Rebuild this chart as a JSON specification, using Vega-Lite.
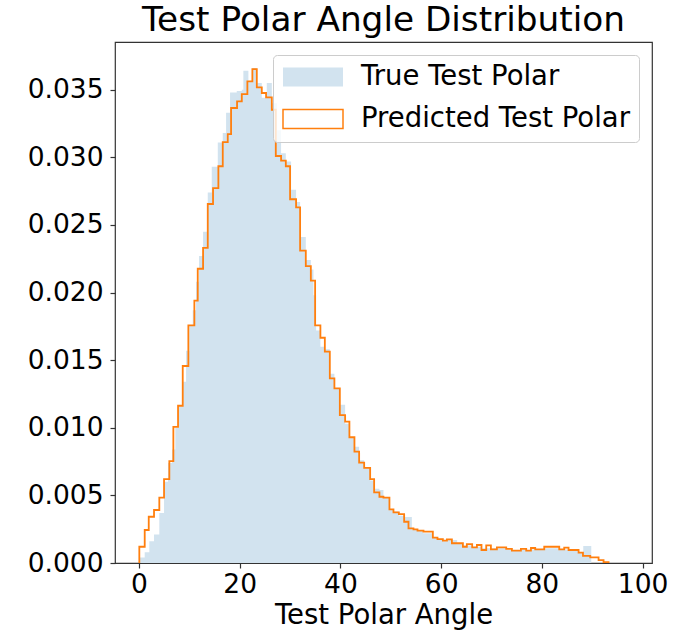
{
  "$schema": "https://vega.github.io/schema/vega-lite/v6.json",
  "width": 537,
  "height": 521,
  "autosize": {"type": "none"},
  "padding": {"left": 115, "top": 42, "right": 36, "bottom": 67},
  "background": "white",
  "config": {
    "font": "DejaVu Sans",
    "view": {"stroke": "#333333", "strokeWidth": 1.2}
  },
  "title": {"text": "Test Polar Angle Distribution", "fontSize": 34.3, "font": "DejaVu Sans", "fontWeight": "normal", "color": "#000000", "anchor": "middle", "baseline": "alphabetic", "offset": -23},
  "datasets": {
    "truth": [
      {"x": 0.2, "d": 0.0004}, {"x": 1.13, "d": 0.0008}, {"x": 2.05, "d": 0.0016}, {"x": 2.98, "d": 0.0021},
      {"x": 4.03, "d": 0.0037}, {"x": 4.97, "d": 0.006}, {"x": 5.76, "d": 0.0074}, {"x": 6.56, "d": 0.0084},
      {"x": 7.21, "d": 0.01}, {"x": 7.89, "d": 0.0116}, {"x": 8.54, "d": 0.0134}, {"x": 9.34, "d": 0.0157},
      {"x": 9.99, "d": 0.0176}, {"x": 10.67, "d": 0.0187}, {"x": 11.33, "d": 0.0208}, {"x": 11.92, "d": 0.0227},
      {"x": 12.72, "d": 0.0245}, {"x": 13.65, "d": 0.0274}, {"x": 14.44, "d": 0.0293}, {"x": 15.64, "d": 0.0311},
      {"x": 16.63, "d": 0.0318}, {"x": 17.29, "d": 0.0333}, {"x": 18.08, "d": 0.0348}, {"x": 19.41, "d": 0.0349},
      {"x": 20.41, "d": 0.035}, {"x": 20.72, "d": 0.0364}, {"x": 21.72, "d": 0.0356}, {"x": 22.51, "d": 0.0366},
      {"x": 23.39, "d": 0.0355}, {"x": 24.38, "d": 0.0344}, {"x": 25.37, "d": 0.0355}, {"x": 26.37, "d": 0.034},
      {"x": 27.42, "d": 0.032}, {"x": 28.21, "d": 0.0303}, {"x": 29.15, "d": 0.0297}, {"x": 30.2, "d": 0.0276},
      {"x": 31.19, "d": 0.0267}, {"x": 31.99, "d": 0.0241}, {"x": 33.12, "d": 0.0224}, {"x": 34.12, "d": 0.0217},
      {"x": 34.64, "d": 0.0198}, {"x": 35.17, "d": 0.0172}, {"x": 36.02, "d": 0.016}, {"x": 36.9, "d": 0.0158},
      {"x": 37.89, "d": 0.014}, {"x": 38.8, "d": 0.0129}, {"x": 39.88, "d": 0.0117}, {"x": 40.93, "d": 0.0103},
      {"x": 41.78, "d": 0.0093}, {"x": 42.78, "d": 0.0086}, {"x": 43.71, "d": 0.0076}, {"x": 44.71, "d": 0.0071},
      {"x": 45.9, "d": 0.0061}, {"x": 46.69, "d": 0.0055}, {"x": 47.74, "d": 0.0054}, {"x": 48.54, "d": 0.0048},
      {"x": 49.73, "d": 0.004}, {"x": 50.53, "d": 0.0038}, {"x": 51.6, "d": 0.0035}, {"x": 52.65, "d": 0.0034},
      {"x": 54.18, "d": 0.0025}, {"x": 55.24, "d": 0.0024}, {"x": 56.43, "d": 0.0022}, {"x": 58.41, "d": 0.0019},
      {"x": 59.21, "d": 0.0018}, {"x": 60.4, "d": 0.0016}, {"x": 61.2, "d": 0.0017}, {"x": 63.18, "d": 0.0014},
      {"x": 64.38, "d": 0.0013}, {"x": 66.16, "d": 0.0012}, {"x": 67.95, "d": 0.0011}, {"x": 71.13, "d": 0.0011},
      {"x": 72.92, "d": 0.001}, {"x": 74.11, "d": 0.0009}, {"x": 75.9, "d": 0.001}, {"x": 76.89, "d": 0.0009},
      {"x": 77.89, "d": 0.001}, {"x": 80.47, "d": 0.0011}, {"x": 83.45, "d": 0.001}, {"x": 85.24, "d": 0.0009},
      {"x": 87.22, "d": 0.0008}, {"x": 88.22, "d": 0.00126}, {"x": 89.81, "d": 0}
    ],
    "pred": [
      {"x": 0.06, "d": 0}, {"x": 0.06, "d": 0.0012}, {"x": 1.13, "d": 0.00244}, {"x": 1.93, "d": 0.00342},
      {"x": 2.98, "d": 0.00392}, {"x": 4.03, "d": 0.00483}, {"x": 4.97, "d": 0.00621}, {"x": 6.02, "d": 0.00754},
      {"x": 6.82, "d": 0.01006}, {"x": 7.75, "d": 0.01163}, {"x": 8.68, "d": 0.01457}, {"x": 9.8, "d": 0.01758},
      {"x": 10.99, "d": 0.0194}, {"x": 11.66, "d": 0.02176}, {"x": 12.72, "d": 0.0233}, {"x": 13.65, "d": 0.02655},
      {"x": 14.7, "d": 0.02773}, {"x": 15.76, "d": 0.02934}, {"x": 16.63, "d": 0.03113}, {"x": 17.62, "d": 0.03172},
      {"x": 18.28, "d": 0.03365}, {"x": 19.47, "d": 0.03414}, {"x": 20.41, "d": 0.03468}, {"x": 21.52, "d": 0.03562},
      {"x": 22.51, "d": 0.03653}, {"x": 23.39, "d": 0.03518}, {"x": 24.38, "d": 0.03476}, {"x": 25.23, "d": 0.03444},
      {"x": 26.37, "d": 0.03352}, {"x": 27.16, "d": 0.0301}, {"x": 28.21, "d": 0.02975}, {"x": 29.15, "d": 0.02934},
      {"x": 30.0, "d": 0.0269}, {"x": 31.19, "d": 0.0263}, {"x": 31.99, "d": 0.0231}, {"x": 33.12, "d": 0.02196},
      {"x": 34.12, "d": 0.02088}, {"x": 34.97, "d": 0.01758}, {"x": 36.02, "d": 0.01666}, {"x": 36.9, "d": 0.01563},
      {"x": 37.89, "d": 0.01366}, {"x": 38.8, "d": 0.01292}, {"x": 39.88, "d": 0.01094}, {"x": 40.93, "d": 0.01045},
      {"x": 41.78, "d": 0.0093}, {"x": 42.78, "d": 0.00823}, {"x": 43.71, "d": 0.00742}, {"x": 44.71, "d": 0.00703},
      {"x": 45.9, "d": 0.00621}, {"x": 46.69, "d": 0.00523}, {"x": 47.74, "d": 0.0049}, {"x": 48.54, "d": 0.00483},
      {"x": 49.73, "d": 0.00397}, {"x": 50.53, "d": 0.00375}, {"x": 51.6, "d": 0.00362}, {"x": 52.65, "d": 0.00305},
      {"x": 53.51, "d": 0.00256}, {"x": 54.5, "d": 0.00249}, {"x": 55.3, "d": 0.00239}, {"x": 56.49, "d": 0.00232},
      {"x": 58.35, "d": 0.00187}, {"x": 59.27, "d": 0.00177}, {"x": 60.34, "d": 0.00165}, {"x": 61.14, "d": 0.00175},
      {"x": 62.13, "d": 0.00146}, {"x": 64.32, "d": 0.0012}, {"x": 65.1, "d": 0.0014}, {"x": 66.16, "d": 0.00116},
      {"x": 67.1, "d": 0.00133}, {"x": 68.01, "d": 0.00096}, {"x": 68.95, "d": 0.00131}, {"x": 69.88, "d": 0.00101},
      {"x": 71.07, "d": 0.00116}, {"x": 72.92, "d": 0.00104}, {"x": 74.05, "d": 0.00091}, {"x": 75.84, "d": 0.00104},
      {"x": 76.89, "d": 0.00091}, {"x": 77.83, "d": 0.00111}, {"x": 78.68, "d": 0.00101}, {"x": 80.47, "d": 0.0012},
      {"x": 83.45, "d": 0.00101}, {"x": 84.44, "d": 0.00113}, {"x": 85.3, "d": 0.00096}, {"x": 87.29, "d": 0.00076},
      {"x": 88.16, "d": 0.00052}, {"x": 89.61, "d": 0.00042}, {"x": 91.26, "d": 0.00022}, {"x": 92.25, "d": 0.00007},
      {"x": 93.24, "d": 0}
    ]
  },
  "layer": [
    {
      "data": {"name": "truth"},
      "mark": {"type": "area", "interpolate": "step-after", "fillOpacity": 1},
      "encoding": {
        "x": {
          "field": "x", "type": "quantitative",
          "scale": {"domain": [-4.77, 101.87], "nice": false, "zero": false},
          "title": "Test Polar Angle",
          "axis": {
            "values": [0, 20, 40, 60, 80, 100], "domain": false, "grid": false,
            "tickSize": 5, "tickColor": "#333333", "tickWidth": 1.2,
            "labelFontSize": 26.5, "labelFont": "DejaVu Sans", "labelColor": "#000000", "labelPadding": 3, "labelFlush": false,
            "titleFontSize": 27.5, "titleFont": "DejaVu Sans", "titleFontWeight": "normal", "titleColor": "#000000", "titlePadding": 4
          }
        },
        "y": {
          "field": "d", "type": "quantitative",
          "scale": {"domain": [0, 0.03853], "nice": false},
          "title": null,
          "axis": {
            "values": [0, 0.005, 0.01, 0.015, 0.02, 0.025, 0.03, 0.035], "format": ".3f", "domain": false, "grid": false,
            "tickSize": 5, "tickColor": "#333333", "tickWidth": 1.2,
            "labelFontSize": 26.5, "labelFont": "DejaVu Sans", "labelColor": "#000000", "labelPadding": 7, "labelFlush": false
          }
        },
        "fill": {
          "datum": "True Test Polar", "type": "nominal",
          "scale": {"domain": ["True Test Polar", "Predicted Test Polar"], "range": ["#d2e3ef", "transparent"]},
          "legend": {
            "title": null, "orient": "none", "legendX": 158, "legendY": 13, "direction": "vertical",
            "symbolType": "M-1,-0.32H1V0.32H-1Z", "symbolSize": 3600, "symbolStrokeWidth": 1.5, "symbolOpacity": 1,
            "labelFontSize": 27.5, "labelFont": "DejaVu Sans", "labelColor": "#000000", "labelOffset": 17, "labelLimit": 500,
            "clipHeight": 26, "rowPadding": 14, "padding": 9,
            "strokeColor": "#cccccc", "fillColor": "rgba(255,255,255,0.8)", "cornerRadius": 4
          }
        }
      }
    },
    {
      "data": {"name": "pred"},
      "mark": {"type": "line", "interpolate": "step-after", "strokeWidth": 1.8},
      "encoding": {
        "x": {"field": "x", "type": "quantitative"},
        "y": {"field": "d", "type": "quantitative"},
        "stroke": {
          "datum": "Predicted Test Polar", "type": "nominal",
          "scale": {"domain": ["True Test Polar", "Predicted Test Polar"], "range": ["transparent", "#ff7f0e"]},
          "legend": {
            "title": null, "orient": "none", "legendX": 158, "legendY": 13, "direction": "vertical",
            "symbolType": "M-1,-0.32H1V0.32H-1Z", "symbolSize": 3600, "symbolStrokeWidth": 1.5, "symbolOpacity": 1,
            "labelFontSize": 27.5, "labelFont": "DejaVu Sans", "labelColor": "#000000", "labelOffset": 17, "labelLimit": 500,
            "clipHeight": 26, "rowPadding": 14, "padding": 9,
            "strokeColor": "#cccccc", "fillColor": "rgba(255,255,255,0.8)", "cornerRadius": 4
          }
        },
        "order": {"value": null}
      }
    }
  ]
}
